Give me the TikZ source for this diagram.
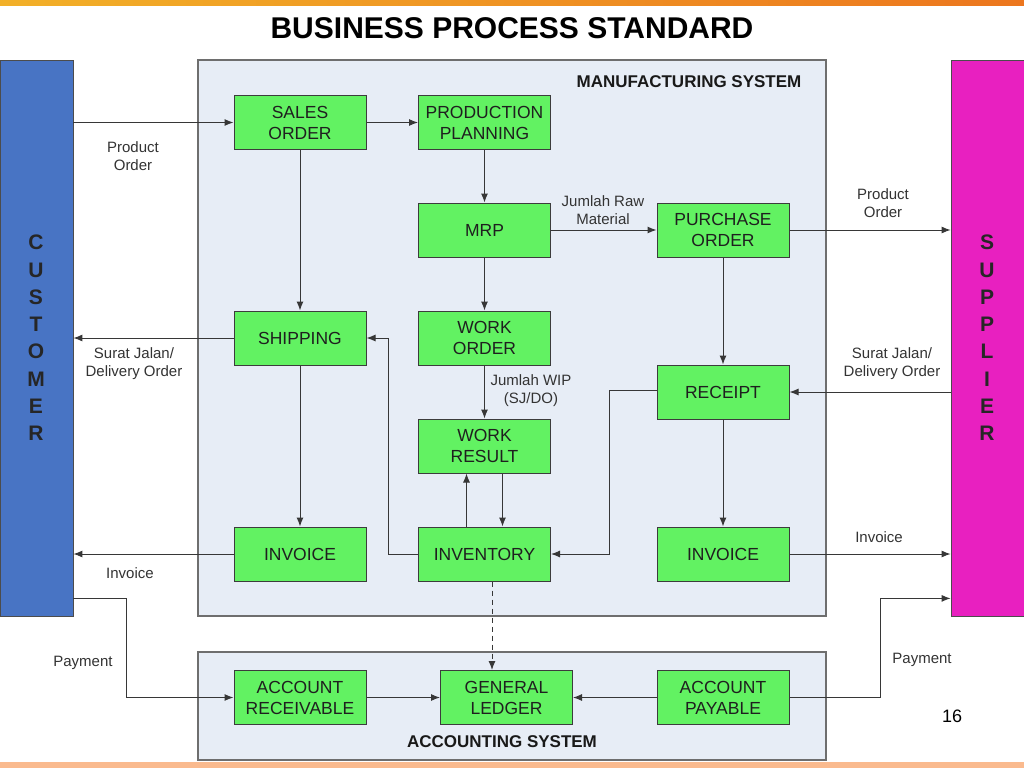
\documentclass[tikz,border=0pt]{standalone}
\usepackage{fontspec}
\setmainfont{Liberation Sans}
\usetikzlibrary{arrows.meta}
\definecolor{boxgreen}{RGB}{98,242,98}
\definecolor{boxedge}{RGB}{60,60,60}
\definecolor{panelfill}{RGB}{231,237,246}
\definecolor{paneledge}{RGB}{110,110,110}
\definecolor{custblue}{RGB}{72,116,196}
\definecolor{supmag}{RGB}{232,32,192}
\definecolor{linegray}{RGB}{55,55,55}
\definecolor{topleft}{RGB}{242,176,40}
\definecolor{topright}{RGB}{236,118,30}
\definecolor{bottombar}{RGB}{250,186,142}
\tikzset{
  proc/.style={draw=boxedge, fill=boxgreen, line width=1pt, minimum width=132pt,
    minimum height=54pt, align=center, inner sep=0pt,
    font=\fontsize{17.5}{21}\selectfont, text=black!88},
  lbl/.style={align=center, inner sep=0pt, font=\fontsize{15}{18}\selectfont, text=black!80},
  flow/.style={draw=linegray, line width=1pt, -{Latex[length=9pt,width=7pt]}},
  panel/.style={draw=paneledge, fill=panelfill, line width=1.2pt, inner sep=0pt},
  bar/.style={draw=black!70, line width=0.8pt, inner sep=0pt, minimum width=73pt, minimum height=556pt},
  barletters/.style={align=center, inner sep=0pt, font=\bfseries\fontsize{21}{27.3}\selectfont, text=black!85},
  paneltitle/.style={inner sep=0pt, font=\bfseries\fontsize{17}{20}\selectfont, text=black!90},
}
\begin{document}
\begin{tikzpicture}[x=1pt,y=-1pt]
\useasboundingbox (0,0) rectangle (1024,768);
\fill[white] (0,0) rectangle (1024,768);
% decorative bars
\shade[left color=topleft, right color=topright] (0,0) rectangle (1024,6);
\fill[bottombar] (0,762) rectangle (1024,768);
% title
\node[inner sep=0pt, font=\bfseries\fontsize{30}{36}\selectfont] (title) at (512,28) {BUSINESS PROCESS STANDARD};
% panels
\node[panel, minimum width=628pt, minimum height=556pt] (mfg) at (512,338) {};
\node[panel, minimum width=628pt, minimum height=108pt] (acc) at (512,706) {};
\node[paneltitle] (mfgt) at (689,82) {MANUFACTURING SYSTEM};
\node[paneltitle] (acct) at (502,742) {ACCOUNTING SYSTEM};
% side bars
\node[bar, fill=custblue] (cust) at (36.5,338) {};
\node[bar, fill=supmag] (sup) at (987.5,338) {};
\node[barletters] (custl) at (36,338) {C\\U\\S\\T\\O\\M\\E\\R};
\node[barletters] (supl) at (987,338) {S\\U\\P\\P\\L\\I\\E\\R};
% process boxes
\node[proc] (so) at (300,122.5) {SALES\\ORDER};
\node[proc] (pp) at (484.5,122.5) {PRODUCTION\\PLANNING};
\node[proc] (mrp) at (484.5,230) {MRP};
\node[proc] (po) at (723,230) {PURCHASE\\ORDER};
\node[proc] (ship) at (300,338) {SHIPPING};
\node[proc] (wo) at (484.5,338) {WORK\\ORDER};
\node[proc] (rc) at (723,392) {RECEIPT};
\node[proc] (wr) at (484.5,446) {WORK\\RESULT};
\node[proc] (invl) at (300,554) {INVOICE};
\node[proc] (inv) at (484.5,554) {INVENTORY};
\node[proc] (invr) at (723,554) {INVOICE};
\node[proc] (ar) at (300,697.5) {ACCOUNT\\RECEIVABLE};
\node[proc] (gl) at (506.5,697.5) {GENERAL\\LEDGER};
\node[proc] (ap) at (723,697.5) {ACCOUNT\\PAYABLE};
% connectors
\draw[flow] (cust.east |- so.west) -- (so.west);
\draw[flow] (so) -- (pp);
\draw[flow] (pp) -- (mrp);
\draw[flow] (mrp) -- (po);
\draw[flow] (po.east) -- (po.east -| sup.west);
\draw[flow] (so) -- (ship);
\draw[flow] (mrp) -- (wo);
\draw[flow] (po) -- (rc);
\draw[flow] (ship.west) -- (ship.west -| cust.east);
\draw[flow] (sup.west |- rc.east) -- (rc.east);
\draw[flow] (wo) -- (wr);
\draw[flow] (ship) -- (invl);
\draw[flow] ([xshift=-18pt]inv.north) -- ([xshift=-18pt]wr.south);
\draw[flow] ([xshift=18pt]wr.south) -- ([xshift=18pt]inv.north);
\draw[flow] (inv.west) -- ++(-30,0) |- (ship.east);
\draw[flow] ([yshift=2pt]rc.west) -- ++(-47,0) |- (inv.east);
\draw[flow] (rc) -- (invr);
\draw[flow] (invl.west) -- (invl.west -| cust.east);
\draw[flow] (invr.east) -- (invr.east -| sup.west);
\draw[flow, dashed, dash pattern=on 5pt off 4pt] ([xshift=7.5pt]inv.south) -- ([xshift=-14.5pt]gl.north);
\draw[flow] ([yshift=18pt]cust.south east) -- ++(53,0) |- (ar.west);
\draw[flow] (ar) -- (gl);
\draw[flow] (ap) -- (gl);
\draw[flow] (ap.east) -- ++(91,0) |- ([yshift=18pt]sup.south west);
% labels
\node[lbl] (l1) at (133,156) {Product\\Order};
\node[lbl] (l2) at (603,210) {Jumlah Raw\\Material};
\node[lbl] (l3) at (883,203) {Product\\Order};
\node[lbl] (l4) at (134,364) {Surat Jalan/\\Delivery Order};
\node[lbl] (l5) at (892,364) {Surat Jalan/\\Delivery Order};
\node[lbl] (l6) at (531,391) {Jumlah WIP\\(SJ/DO)};
\node[lbl] (l7) at (130,573) {Invoice};
\node[lbl] (l8) at (879,537) {Invoice};
\node[lbl] (l9) at (83,663) {Payment};
\node[lbl] (l10) at (922,660) {Payment};
\node[inner sep=0pt, font=\fontsize{18}{20}\selectfont] (pg) at (952,716) {16};
\end{tikzpicture}
\end{document}
